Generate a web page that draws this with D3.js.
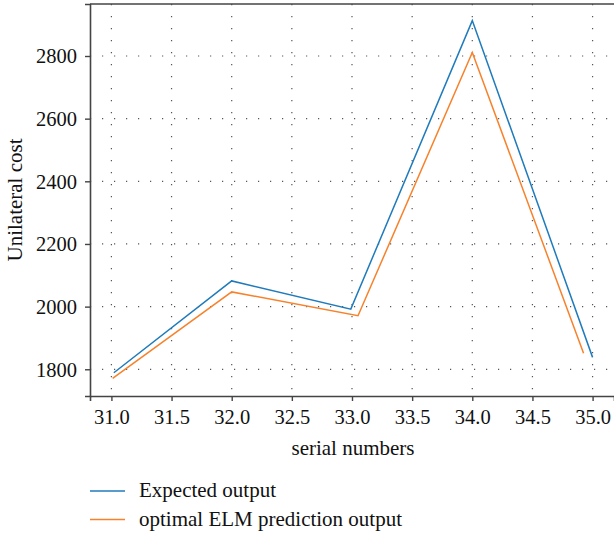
<!DOCTYPE html>
<html>
<head>
<meta charset="utf-8">
<script src="https://cdn.jsdelivr.net/npm/d3@7"></script>
<style>
  body { margin: 0; background: #fff; }
  text { font-family: "Liberation Serif", "DejaVu Serif", serif; }
</style>
</head>
<body>
<svg id="chart"></svg>
<script>
// values
const expectedX = [31.02, 32.0, 32.99, 34.0, 35.0];
const expectedY = [1789, 2082, 1992, 2913, 1838];
const predX = [31.01, 32.0, 33.05, 34.0, 34.925];
const predY = [1771, 2047, 1971, 2811, 1851];
const xTicks = [31.0, 31.5, 32.0, 32.5, 33.0, 33.5, 34.0, 34.5, 35.0];
const yTicks = [1800, 2000, 2200, 2400, 2600, 2800];
const seriesNames = ["Expected output", "optimal ELM prediction output"];

let layout = {"width": 614, "height": 535,
              "left": 90, "right": 614, "top": 4, "bottom": 396};

let svg = d3.select("#chart")
  .attr("width", layout.width)
  .attr("height", layout.height);

let xScale = d3.scaleLinear()
  .domain([30.822, 35.178])
  .range([layout.left, layout.right]);

let yScale = d3.scaleLinear()
  .domain([1714.7, 2966])
  .range([layout.bottom, layout.top]);

let colors = d3.scaleOrdinal()
  .domain(seriesNames)
  .range(["#1f7bbb", "#f7822b"]);

// dotted grid
svg.append("g").selectAll("line")
  .data(xTicks)
  .join("line")
  .attr("x1", d => xScale(d)).attr("x2", d => xScale(d))
  .attr("y1", layout.top).attr("y2", layout.bottom)
  .attr("stroke", "#555").attr("stroke-width", 1.2)
  .attr("stroke-dasharray", "1.2,10.8");

svg.append("g").selectAll("line")
  .data(yTicks)
  .join("line")
  .attr("x1", layout.left).attr("x2", layout.right)
  .attr("y1", d => yScale(d)).attr("y2", d => yScale(d))
  .attr("stroke", "#555").attr("stroke-width", 1.2)
  .attr("stroke-dasharray", "1.2,10.8");

// axes
let xAxis = svg.append("g")
  .attr("transform", `translate(0, ${layout.bottom})`)
  .call(d3.axisBottom(xScale).tickValues(xTicks).tickFormat(d3.format(".1f")).tickSizeOuter(0).tickSize(5));

let yAxis = svg.append("g")
  .attr("transform", `translate(${layout.left}, 0)`)
  .call(d3.axisLeft(yScale).tickValues(yTicks).tickFormat(d3.format("d")).tickSizeOuter(0).tickSize(5));

[xAxis, yAxis].forEach(a => {
  a.select(".domain").attr("stroke", "#444").attr("stroke-width", 1.6);
  a.selectAll(".tick line").attr("stroke", "#444").attr("stroke-width", 1.4);
  a.selectAll(".tick text")
    .style("font-family", "'Liberation Serif', 'DejaVu Serif', serif")
    .style("font-size", "20.5px")
    .attr("fill", "#111");
});
xAxis.selectAll(".tick text").attr("y", 13.5).attr("dy", "0.71em");
yAxis.selectAll(".tick text").attr("x", -13).attr("dy", "0.33em");

// top border
svg.append("line")
  .attr("x1", layout.left).attr("x2", layout.right)
  .attr("y1", layout.top).attr("y2", layout.top)
  .attr("stroke", "#444").attr("stroke-width", 1.6);

// titles
svg.append("text")
  .attr("x", 353).attr("y", 455)
  .attr("text-anchor", "middle")
  .style("font-size", "21px").attr("fill", "#111")
  .text("serial numbers");

svg.append("text")
  .attr("transform", `translate(22, ${(layout.top + layout.bottom) / 2}) rotate(-90)`)
  .attr("text-anchor", "middle")
  .style("font-size", "21px").attr("fill", "#111")
  .text("Unilateral cost");

// lines
let line = d3.line().x(d => xScale(d[0])).y(d => yScale(d[1]));
let series = [
  {name: seriesNames[0], pts: d3.zip(expectedX, expectedY)},
  {name: seriesNames[1], pts: d3.zip(predX, predY)}
];

svg.append("g").selectAll("path")
  .data(series)
  .join("path")
  .attr("d", d => line(d.pts))
  .attr("fill", "none")
  .attr("stroke", d => colors(d.name))
  .attr("stroke-width", 1.5);

// legend
let legend = svg.append("g").selectAll("g")
  .data(seriesNames)
  .join("g")
  .attr("transform", (d, i) => `translate(90, ${491 + 28.5 * i})`);

legend.append("line")
  .attr("x1", 0).attr("x2", 35)
  .attr("stroke", d => colors(d)).attr("stroke-width", 1.5);

legend.append("text")
  .attr("x", 49).attr("y", 6)
  .style("font-size", "21px").attr("fill", "#111")
  .text(d => d);
</script>
</body>
</html>
